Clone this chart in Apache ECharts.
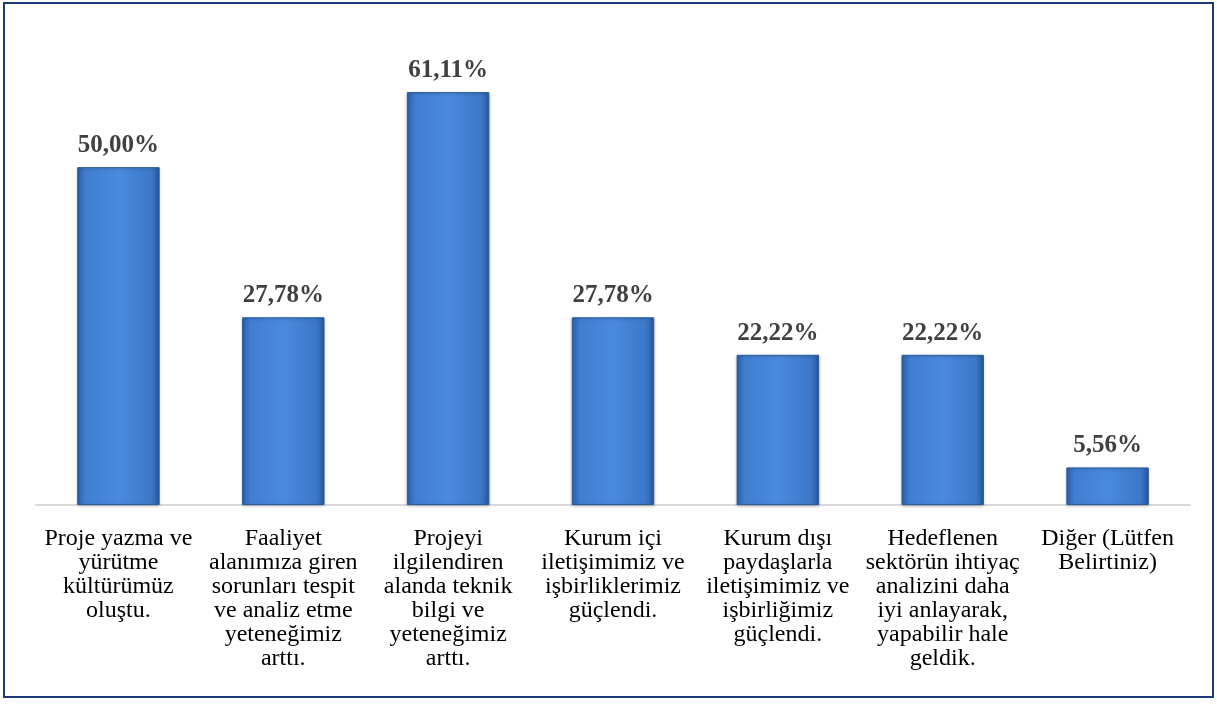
<!DOCTYPE html>
<html>
<head>
<meta charset="utf-8">
<script src="https://cdn.jsdelivr.net/npm/echarts@6/dist/echarts.min.js"></script>
<style>
  html, body { margin: 0; padding: 0; background: #ffffff; }
  #chart { width: 1217px; height: 704px; }
</style>
</head>
<body>
<div id="chart"></div>
<script>
// Category labels (line breaks as printed under each bar)
const categories = [
  'Proje yazma ve\nyürütme\nkültürümüz\noluştu.',
  'Faaliyet\nalanımıza giren\nsorunları tespit\nve analiz etme\nyeteneğimiz\narttı.',
  'Projeyi\nilgilendiren\nalanda teknik\nbilgi ve\nyeteneğimiz\narttı.',
  'Kurum içi\niletişimimiz ve\nişbirliklerimiz\ngüçlendi.',
  'Kurum dışı\npaydaşlarla\niletişimimiz ve\nişbirliğimiz\ngüçlendi.',
  'Hedeflenen\nsektörün ihtiyaç\nanalizini daha\niyi anlayarak,\nyapabilir hale\ngeldik.',
  'Diğer (Lütfen\nBelirtiniz)'
];

// Share of respondents, percent
const values = [50.00, 27.78, 61.11, 27.78, 22.22, 22.22, 5.56];

const serif = '"Liberation Serif", "Times New Roman", serif';

const barFill = new echarts.graphic.LinearGradient(0, 0, 1, 0, [
  { offset: 0.00, color: '#2d5fa8' },
  { offset: 0.10, color: '#3f7ed0' },
  { offset: 0.50, color: '#4a8ade' },
  { offset: 0.90, color: '#3c78c8' },
  { offset: 1.00, color: '#2a579c' }
]);

const chart = echarts.init(document.getElementById('chart'));
chart.setOption({
  animation: false,
  backgroundColor: '#ffffff',
  graphic: [{
    type: 'rect',
    shape: { x: 4, y: 3, width: 1209, height: 694 },
    style: { fill: 'none', stroke: '#1f3b7c', lineWidth: 2 },
    silent: true
  }],
  grid: { left: 36, right: 27, top: 32, bottom: 199, containLabel: false },
  xAxis: {
    type: 'category',
    data: categories,
    axisLine: { show: true, lineStyle: { color: '#d9d9d9', width: 2 } },
    axisTick: { show: false },
    axisLabel: {
      interval: 0,
      margin: 22,
      color: '#000000',
      fontFamily: serif,
      fontSize: 24,
      lineHeight: 24,
      align: 'center'
    }
  },
  yAxis: {
    type: 'value',
    min: 0,
    max: 70,
    show: false,
    splitLine: { show: false }
  },
  series: [{
    type: 'bar',
    data: values,
    barWidth: '50%',
    itemStyle: {
      color: barFill,
      borderColor: '#2b5a9f',
      borderWidth: 1,
      shadowColor: 'rgba(0,0,0,0.25)',
      shadowBlur: 3,
      shadowOffsetY: 1
    },
    label: {
      show: true,
      position: 'top',
      distance: 9,
      color: '#404040',
      fontFamily: serif,
      fontSize: 25,
      fontWeight: 'bold',
      formatter: p => p.value.toFixed(2).replace('.', ',') + '%'
    }
  }]
});
</script>
</body>
</html>
